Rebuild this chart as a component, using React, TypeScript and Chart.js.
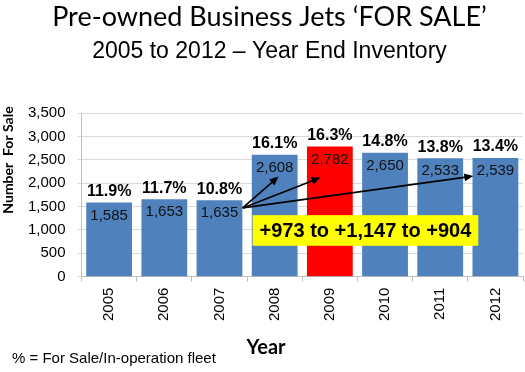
import React, { useEffect, useRef } from "react";
import { Chart, registerables } from "chart.js";

Chart.register(...registerables);

const years = ["2005", "2006", "2007", "2008", "2009", "2010", "2011", "2012"];
const forSale = [1585, 1653, 1635, 2608, 2782, 2650, 2533, 2539];
const pctLabels = ["11.9%", "11.7%", "10.8%", "16.1%", "16.3%", "14.8%", "13.8%", "13.4%"];
const barColors = ["#4F81BD", "#4F81BD", "#4F81BD", "#4F81BD", "#FF0000", "#4F81BD", "#4F81BD", "#4F81BD"];
const yTicks = [0, 500, 1000, 1500, 2000, 2500, 3000, 3500];

// arrow annotation in data coordinates (category index, value)
const arrowFrom = { x: 2.42, y: 1470 };
const arrowTargets = [
  { x: 3.07, y: 2140 },
  { x: 3.83, y: 2120 },
  { x: 6.6, y: 2150 },
];
// callout box in data coordinates
const calloutText = "+973 to +1,147 to +904";
const calloutX = [2.6, 6.69];
const calloutY = [660, 1315];

const titleText = "Pre-owned Business Jets \u2018FOR SALE\u2019";
const subtitleText = "2005 to 2012 \u2013 Year End Inventory";
const yTitle = "Number  For Sale";
const xTitle = "Year";
const footnote = "% = For Sale/In-operation fleet";

const fmt = (v: number) => v.toLocaleString("en-US");

function drawArrow(ctx: CanvasRenderingContext2D, x1: number, y1: number, x2: number, y2: number) {
  const ang = Math.atan2(y2 - y1, x2 - x1);
  const head = 9;
  const hw = 4;
  ctx.beginPath();
  ctx.moveTo(x1, y1);
  ctx.lineTo(x2 - Math.cos(ang) * head * 0.8, y2 - Math.sin(ang) * head * 0.8);
  ctx.stroke();
  ctx.beginPath();
  ctx.moveTo(x2, y2);
  ctx.lineTo(x2 - Math.cos(ang) * head - Math.sin(ang) * hw, y2 - Math.sin(ang) * head + Math.cos(ang) * hw);
  ctx.lineTo(x2 - Math.cos(ang) * head + Math.sin(ang) * hw, y2 - Math.sin(ang) * head - Math.cos(ang) * hw);
  ctx.closePath();
  ctx.fill();
}

const annotPlugin = {
  id: "annot",
  afterDatasetsDraw(chart: any) {
    const ctx: CanvasRenderingContext2D = chart.ctx;
    const xs = chart.scales.x;
    const ys = chart.scales.y;
    const meta = chart.getDatasetMeta(0);
    ctx.save();
    meta.data.forEach((bar: any, i: number) => {
      ctx.textAlign = "center";
      ctx.textBaseline = "middle";
      ctx.fillStyle = "#111";
      ctx.font = "15px 'Liberation Sans', Arial, sans-serif";
      ctx.fillText(fmt(forSale[i]), bar.x, bar.y + 13);
      ctx.fillStyle = "#000";
      ctx.font = "bold 16px 'Liberation Sans', Arial, sans-serif";
      ctx.fillText(pctLabels[i], bar.x, bar.y - 11);
    });
    ctx.strokeStyle = "#000";
    ctx.fillStyle = "#000";
    ctx.lineWidth = 1.6;
    const fx = xs.getPixelForValue(arrowFrom.x);
    const fy = ys.getPixelForValue(arrowFrom.y);
    arrowTargets.forEach((t) => {
      drawArrow(ctx, fx, fy, xs.getPixelForValue(t.x), ys.getPixelForValue(t.y));
    });
    const bx1 = xs.getPixelForValue(calloutX[0]);
    const bx2 = xs.getPixelForValue(calloutX[1]);
    const by1 = ys.getPixelForValue(calloutY[1]);
    const by2 = ys.getPixelForValue(calloutY[0]);
    ctx.fillStyle = "#FFFF00";
    ctx.fillRect(bx1, by1, bx2 - bx1, by2 - by1);
    ctx.fillStyle = "#000";
    ctx.font = "bold 20px 'Liberation Sans', Arial, sans-serif";
    ctx.textAlign = "center";
    ctx.textBaseline = "middle";
    ctx.fillText(calloutText, (bx1 + bx2) / 2, (by1 + by2) / 2 + 1);
    ctx.restore();
  },
  afterDraw(chart: any) {
    const ctx: CanvasRenderingContext2D = chart.ctx;
    ctx.save();
    ctx.fillStyle = "#000";
    ctx.translate(8, 160);
    ctx.rotate(-Math.PI / 2);
    ctx.font = "bold 14px Lato, sans-serif";
    ctx.textAlign = "center";
    ctx.textBaseline = "middle";
    ctx.fillText(yTitle, 0, 0);
    ctx.restore();
    ctx.save();
    ctx.fillStyle = "#000";
    ctx.font = "bold 20px Lato, sans-serif";
    ctx.textAlign = "center";
    ctx.textBaseline = "middle";
    ctx.fillText(xTitle, 266, 348);
    ctx.font = "15px 'Liberation Sans', Arial, sans-serif";
    ctx.textAlign = "left";
    ctx.fillText(footnote, 12, 359);
    ctx.restore();
  },
};

export default function App() {
  const ref = useRef<HTMLCanvasElement>(null);
  useEffect(() => {
    if (!ref.current) return;
    Chart.defaults.font.family = "'Liberation Sans', Arial, sans-serif";
    const chart = new Chart(ref.current, {
      type: "bar",
      data: {
        labels: years,
        datasets: [
          {
            data: forSale,
            backgroundColor: barColors,
            borderWidth: 0,
            barPercentage: 0.83,
            categoryPercentage: 1,
          },
        ],
      },
      options: {
        responsive: false,
        animation: false,
        layout: { padding: { left: 16, right: 2, bottom: 45, top: 0 } },
        plugins: {
          legend: { display: false },
          tooltip: { enabled: false },
          title: {
            display: true,
            text: titleText,
            color: "#000",
            font: { family: "Lato, sans-serif", size: 27, weight: "normal" },
            padding: { top: 1, bottom: 4 },
          },
          subtitle: {
            display: true,
            text: subtitleText,
            color: "#000",
            font: { family: "'Liberation Sans', Arial, sans-serif", size: 23 },
            padding: { top: 0, bottom: 48 },
          },
        },
        scales: {
          x: {
            grid: {
              display: true,
              drawOnChartArea: false,
              drawTicks: true,
              tickLength: 5,
              color: "#BFBFBF",
              offset: true,
            },
            border: { color: "#BFBFBF" },
            ticks: {
              color: "#000",
              font: { size: 15 },
              minRotation: 90,
              maxRotation: 90,
              padding: 6,
            },
          },
          y: {
            min: 0,
            max: 3500,
            afterBuildTicks: (s: any) => {
              s.ticks = yTicks.map((v) => ({ value: v }));
            },
            grid: { color: "#D9D9D9", tickLength: 4 },
            border: { color: "#BFBFBF" },
            ticks: {
              color: "#000",
              font: { size: 15 },
              padding: 12,
              callback: (v: any) => fmt(Number(v)),
            },
          },
        },
      },
      plugins: [annotPlugin],
    });
    return () => chart.destroy();
  }, []);
  return (
    <div style={{ position: "absolute", left: 0, top: 0, width: 525, height: 372, background: "#fff" }}>
      <canvas ref={ref} width={525} height={372} />
    </div>
  );
}
